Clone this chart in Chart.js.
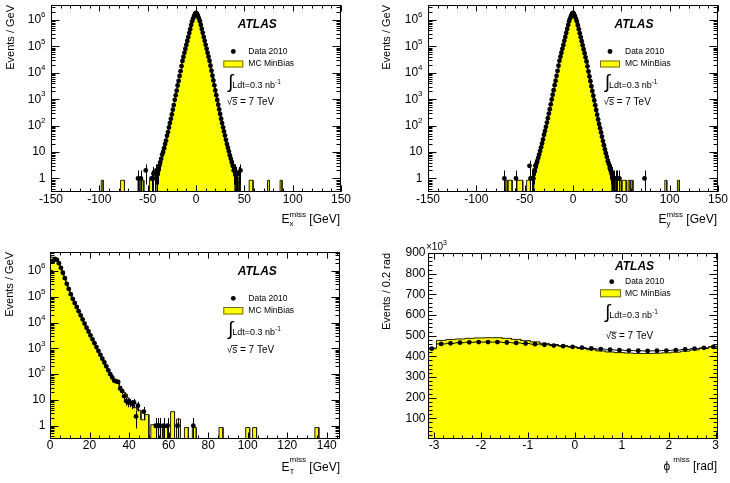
<!DOCTYPE html>
<html>
<head>
<meta charset="utf-8">
<script src="https://cdn.jsdelivr.net/npm/chart.js@4.4.1/dist/chart.umd.min.js"></script>
<style>
  html, body { margin: 0; padding: 0; background: #fff; }
  #wrap { position: relative; width: 730px; height: 483px; }
  #wrap canvas { position: absolute; left: 0; top: 0; }
</style>
</head>
<body>
<div id="wrap">
  <canvas id="cEx" width="730" height="483"></canvas>
  <canvas id="cEy" width="730" height="483"></canvas>
  <canvas id="cEt" width="730" height="483"></canvas>
  <canvas id="cPhi" width="730" height="483"></canvas>
</div>
<script>
/* ATLAS 2010 MET distributions, data vs MC MinBias */

/* ---------- tick labels ---------- */
const LOG_TICKS = [1, 10, 1e2, 1e3, 1e4, 1e5, 1e6];
const EXY_TICKS = [-150, -100, -50, 0, 50, 100, 150];
const ET_TICKS = [0, 20, 40, 60, 80, 100, 120, 140];
const PHI_TICKS = [-3, -2, -1, 0, 1, 2, 3];
const PHI_Y_TICKS = [100, 200, 300, 400, 500, 600, 700, 800, 900];

/* ---------- E_x^miss / E_y^miss (events / GeV), core in 1 GeV bins ---------- */
const exyCentres = [-42, -41, -40, -39, -38, -37, -36, -35, -34, -33, -32, -31, -30, -29, -28, -27, -26, -25, -24, -23, -22,
  -21, -20, -19, -18, -17, -16, -15, -14, -13, -12, -11, -10, -9, -8, -7, -6, -5, -4, -3, -2, -1, 0,
  1, 2, 3, 4, 5, 6, 7, 8, 9, 10, 11, 12, 13, 14, 15, 16, 17, 18, 19, 20, 21,
  22, 23, 24, 25, 26, 27, 28, 29, 30, 31, 32, 33, 34, 35, 36, 37, 38, 39, 40, 41, 42];
const exData = [1, 2, 1.5, 2, 3, 4, 5.5, 8, 10, 14, 20, 27, 41, 57, 85, 125, 180, 265, 400, 600, 950,
  1400, 2100, 3300, 4900, 7600, 11500, 18000, 28000, 40000, 57000, 80000, 113000, 160000, 225000, 320000, 450000,
  640000, 890000, 1130000, 1400000, 1700000, 1860000,
  1720000, 1420000, 1140000, 900000, 650000, 455000, 325000, 228000, 162000, 115000, 81000, 57000, 40500, 28500,
  18500, 12000, 7800, 5100, 3350, 2150, 1420, 940, 620, 410, 275, 182, 125, 86, 60, 42, 29, 20, 14.5, 10.5, 7.5,
  5.5, 4, 3, 2, 2, 1.5, 1];
const exMC = [0, 0, 1.1, 1.5, 2.4, 3.4, 5, 7, 9.5, 13, 18, 26, 38, 55, 80, 118, 170, 255, 380, 580, 900,
  1350, 2000, 3100, 4700, 7300, 11000, 17000, 27000, 38500, 55000, 78000, 110000, 156000, 220000, 312000, 440000,
  625000, 870000, 1110000, 1380000, 1650000, 1800000,
  1660000, 1380000, 1110000, 880000, 635000, 445000, 316000, 222000, 158000, 112000, 79000, 56000, 39500, 27500,
  18000, 11500, 7500, 4900, 3200, 2050, 1360, 900, 590, 395, 262, 175, 120, 82, 57, 40, 27.5, 19, 13.5, 9.8, 7,
  5, 3.6, 2.6, 1.8, 1.2, 0, 0];
// isolated tail bins: data [centre, value] (1 GeV), MC [centre, value, width]
const exDataTail = [[-60, 1], [-57, 1], [-52, 2], [-46, 1], [-44, 1.5], [44, 1.5], [46, 2]];
const exMCTail = [[-97, 0.85, 2], [-77, 0.85, 2], [-75, 0.85, 2], [-59, 0.85, 2], [-55, 0.85, 2], [-47, 0.85, 2],
  [-45, 0.85, 2], [45, 0.85, 2], [56, 0.85, 2], [58, 0.85, 2], [75, 0.85, 2], [88, 0.85, 2]];

const eyData = [1, 1, 2, 3, 3.5, 4.5, 6, 8, 11, 15, 21, 30, 45, 63, 90, 130, 190, 285, 420, 640, 980,
  1480, 2200, 3400, 5000, 7700, 11800, 18500, 28500, 40500, 57500, 81000, 114000, 162000, 228000, 322000, 455000,
  650000, 900000, 1150000, 1420000, 1720000, 1870000,
  1700000, 1400000, 1120000, 880000, 630000, 445000, 315000, 222000, 157000, 111000, 78000, 55000, 38500, 27000,
  17500, 11200, 7300, 4800, 3100, 2050, 1350, 900, 590, 390, 260, 170, 115, 80, 55, 38, 26, 18, 12.5, 9, 6.5,
  4.5, 3.5, 2.5, 2, 1.5, 1, 1];
const eyMC = [0, 0, 1.3, 2, 2.8, 4, 5.5, 7.5, 10, 14, 20, 28, 42, 60, 86, 125, 180, 270, 400, 610, 940,
  1420, 2100, 3250, 4800, 7400, 11300, 17800, 27500, 39000, 56000, 79000, 112000, 158000, 224000, 316000, 448000,
  640000, 885000, 1130000, 1400000, 1680000, 1830000,
  1660000, 1380000, 1100000, 870000, 620000, 440000, 310000, 218000, 154000, 109000, 76500, 54000, 37800, 26500,
  17200, 11000, 7100, 4700, 3000, 2000, 1320, 880, 575, 380, 252, 165, 112, 78, 54, 37, 25, 17.5, 12, 8.5, 6,
  4.2, 3, 2, 1.4, 1.1, 0, 0];
const eyDataTail = [[-71, 1], [-59, 1], [-45, 3], [-44, 1], [44, 1], [46, 1], [48, 1], [74, 1]];
const eyMCTail = [[-69, 0.85, 2], [-66, 0.85, 2], [-64, 0.85, 2], [-57, 0.85, 2], [-55, 0.85, 2], [-53, 0.85, 2],
  [-47, 0.85, 2], [-45, 0.85, 2], [45, 0.85, 2], [47, 0.85, 2], [49, 0.85, 2], [52, 0.85, 2], [54, 0.85, 2],
  [58, 0.85, 2], [61, 0.85, 2], [96, 0.85, 2], [109, 0.85, 2]];

/* ---------- E_T^miss, 1 GeV bins ---------- */
const etCentres = [0.5, 1.5, 2.5, 3.5, 4.5, 5.5, 6.5, 7.5, 8.5, 9.5, 10.5, 11.5, 12.5, 13.5, 14.5, 15.5, 16.5, 17.5, 18.5, 19.5,
  20.5, 21.5, 22.5, 23.5, 24.5, 25.5, 26.5, 27.5, 28.5, 29.5, 30.5, 31.5, 32.5, 33.5, 34.5, 35.5, 36.5, 37.5, 38.5, 39.5];
const etData = [900000, 2400000, 2950000, 2700000, 2000000, 1320000, 850000, 525000, 316000, 200000,
  126000, 83000, 57500, 40000, 27500, 19000, 13200, 9100, 6300, 4500,
  3160, 2240, 1580, 1120, 794, 562, 398, 282, 200, 141,
  100, 74, 56, 52, 50, 28, 22, 14, 9, 8];
const etMC = [3500000, 3300000, 3000000, 2650000, 1980000, 1320000, 860000, 535000, 325000, 205000,
  130000, 86000, 60000, 42000, 29000, 20000, 14000, 9700, 6700, 4800,
  3400, 2400, 1700, 1200, 860, 610, 430, 305, 215, 152,
  110, 80, 62, 56, 52, 34, 26, 20, 17, 12];
const etDataTail = [[40.5, 8], [41.5, 7], [42.5, 8], [43.5, 2.3], [44.5, 6], [47.5, 3.5],
  [53.5, 1], [54.5, 1], [55.5, 1], [57.5, 1], [59.5, 1], [64.5, 1], [72.5, 1]];
const etMCTail = [[41, 7.5, 2], [43, 5, 2], [45, 4, 2], [47, 1.7, 2], [49, 2.7, 2], [52, 1.1, 2], [54, 0.85, 2],
  [56, 0.85, 2], [58.5, 0.85, 2], [62, 3.5, 2], [65, 1.8, 2], [69, 0.85, 2], [73, 0.85, 2], [86.5, 0.85, 2],
  [100, 0.85, 2], [103.5, 0.85, 2], [135, 0.85, 2]];

/* ---------- phi^miss, 0.2 rad bins, x10^3 events ---------- */
const phiCentres = [-3.05, -2.85, -2.65, -2.45, -2.25, -2.05, -1.85, -1.65, -1.45, -1.25, -1.05, -0.85, -0.65, -0.45, -0.25, -0.05,
  0.15, 0.35, 0.55, 0.75, 0.95, 1.15, 1.35, 1.55, 1.75, 1.95, 2.15, 2.35, 2.55, 2.75, 2.95];
const phiData = [437, 460, 463, 466, 468, 469, 469, 469, 467, 465, 462, 459, 456, 452, 449, 446,
  442, 438, 435, 432, 430, 428, 427, 426, 427, 428, 430, 433, 437, 441, 446];
const phiMC = [440, 477, 481, 484, 487, 489, 490, 490, 487, 482, 476, 470, 463, 457, 451, 445,
  438, 432, 426, 421, 418, 416, 414, 414, 415, 417, 420, 425, 431, 438, 446];

/* ---------- helpers ---------- */
const FONT = '"Liberation Sans", Arial, Helvetica, sans-serif';
const f = (px, style = "") => `${style} ${px}px ${FONT}`.trim();
const MC_FILL = "#ffff00", MC_LINE = "#202000";
const EMPTY = 1e-3; // empty bins sit below every axis floor (log scales drop a literal 0)

const bins = (centres, vals, w) => centres.map((c, i) => ({ lo: c - w / 2, hi: c + w / 2, v: vals[i] }));
const tailBins = (tail) => tail.map(([c, v, w]) => ({ lo: c - w / 2, hi: c + w / 2, v }));
const points = (centres, vals, w) => centres.map((c, i) => ({ x: c, y: vals[i], w })).filter((p) => p.y > 0);
const tailPoints = (tail) => tail.map(([c, v]) => ({ x: c, y: v, w: 1 }));

// histogram outline through the bin edges; empty stretches drop below the axis floor
function histLine(list) {
  const b = list.slice().sort((p, q) => p.lo - q.lo);
  const pts = [];
  b.forEach((bin, i) => {
    const prev = b[i - 1], next = b[i + 1];
    const v = bin.v > 0 ? bin.v : EMPTY;
    if (!prev || prev.hi < bin.lo - 1e-6) pts.push({ x: bin.lo, y: EMPTY });
    pts.push({ x: bin.lo, y: v }, { x: bin.hi, y: v });
    if (!next || next.lo > bin.hi + 1e-6) pts.push({ x: bin.hi, y: EMPTY });
  });
  return pts;
}

function text(ctx, s, x, y, font, align = "left", base = "middle") {
  ctx.font = font; ctx.textAlign = align; ctx.textBaseline = base; ctx.fillStyle = "#000";
  ctx.fillText(s, x, y);
}

function drawErrors(chart, cfg) {
  const { ctx, chartArea: a, scales: { x, y } } = chart;
  ctx.save();
  ctx.beginPath(); ctx.rect(a.left, a.top, a.right - a.left, a.bottom - a.top); ctx.clip();
  ctx.strokeStyle = "#000"; ctx.lineWidth = 1;
  ctx.beginPath();
  chart.data.datasets[0].data.forEach((p) => {
    const s = cfg.err(p.y, p.w);
    const px = Math.round(x.getPixelForValue(p.x)) + 0.5, py = y.getPixelForValue(p.y);
    const yl = p.y - s > 0 ? y.getPixelForValue(p.y - s) : a.bottom;
    ctx.moveTo(px, yl); ctx.lineTo(px, y.getPixelForValue(p.y + s));
    ctx.moveTo(x.getPixelForValue(p.x - p.w / 2), py); ctx.lineTo(x.getPixelForValue(p.x + p.w / 2), py);
  });
  ctx.stroke();
  ctx.restore();
}

function drawFrame(chart, cfg) {
  const { ctx, chartArea: a, scales: { x, y } } = chart;
  const L = Math.round(a.left) + 0.5, R = Math.round(a.right) - 0.5;
  const T = Math.round(a.top) + 0.5, B = Math.round(a.bottom) - 0.5;
  ctx.save();
  ctx.strokeStyle = "#000"; ctx.lineWidth = 1;
  ctx.strokeRect(L, T, R - L, B - T);
  ctx.beginPath();
  const xt = (v, len) => {
    const p = Math.round(x.getPixelForValue(v)) + 0.5;
    ctx.moveTo(p, B); ctx.lineTo(p, B - len); ctx.moveTo(p, T); ctx.lineTo(p, T + len);
  };
  const yt = (v, len) => {
    const p = Math.round(y.getPixelForValue(v)) + 0.5;
    ctx.moveTo(L, p); ctx.lineTo(L + len, p); ctx.moveTo(R, p); ctx.lineTo(R - len, p);
  };
  const n0 = Math.ceil(x.min / cfg.xMinor - 1e-6), n1 = Math.floor(x.max / cfg.xMinor + 1e-6);
  for (let n = n0; n <= n1; n++) xt(n * cfg.xMinor, 3);
  cfg.xTicks.forEach((v) => xt(v, 6));
  if (cfg.yLog) {
    for (let d = Math.floor(Math.log10(y.min)); d <= Math.floor(Math.log10(y.max)); d++) {
      for (let k = 1; k <= 9; k++) {
        const v = k * Math.pow(10, d);
        if (v >= y.min && v <= y.max) yt(v, k === 1 ? 8 : 4);
      }
    }
  } else {
    const m1 = Math.floor(y.max / cfg.yMinor + 1e-6);
    for (let n = 1; n <= m1; n++) yt(n * cfg.yMinor, 4);
    cfg.yTicks.forEach((v) => yt(v, 8));
  }
  ctx.stroke();

  // tick labels
  cfg.xTicks.forEach((v) => text(ctx, String(v), x.getPixelForValue(v), cfg.xLabelY, f(12), "center"));
  cfg.yTicks.forEach((v) => {
    const py = y.getPixelForValue(v);
    if (cfg.yLog && v > 10) {
      const e = String(Math.round(Math.log10(v)));
      ctx.font = f(8);
      const we = ctx.measureText(e).width;
      text(ctx, e, cfg.yLabelRight, py - 5, f(8), "right");
      text(ctx, "10", cfg.yLabelRight - we, py, f(12), "right");
    } else {
      text(ctx, String(v), cfg.yLabelRight, py, f(12), "right");
    }
  });
  if (cfg.yMult) {
    const [mx, my] = cfg.yMult;
    text(ctx, "\u00d710", mx, my, f(10));
    ctx.font = f(10);
    text(ctx, "3", mx + ctx.measureText("\u00d710").width, my - 4, f(7));
  }

  // axis titles
  const t = cfg.xTitle;
  ctx.font = f(12);
  const wMain = ctx.measureText(t.main).width, wUnit = ctx.measureText(t.unit).width;
  ctx.font = f(8);
  const wSup = ctx.measureText(t.sup).width, wSub = t.sub ? ctx.measureText(t.sub).width : 0;
  let x0 = t.right - wUnit - Math.max(wSup, wSub) - wMain - (t.gap || 0);
  text(ctx, t.main, x0, t.base, f(12), "left", "alphabetic");
  x0 += wMain + (t.gap || 0);
  text(ctx, t.sup, x0, t.base + t.supDy, f(8), "left", "alphabetic");
  if (t.sub) text(ctx, t.sub, x0, t.base + 3, f(8), "left", "alphabetic");
  text(ctx, t.unit, t.right, t.base, f(12), "right", "alphabetic");

  const [ycx, ytop] = cfg.yTitlePos;
  ctx.save(); ctx.translate(ycx, ytop); ctx.rotate(-Math.PI / 2);
  text(ctx, cfg.yTitle, 0, 0, f(11), "right", "middle");
  ctx.restore();

  drawLegend(ctx, cfg.leg);
  ctx.restore();
}

function drawLegend(ctx, g) {
  text(ctx, "ATLAS", g.atlas[0], g.atlas[1], f(12, "italic bold"));
  ctx.fillStyle = "#000";
  ctx.beginPath(); ctx.arc(g.dot[0], g.dot[1], 2.4, 0, Math.PI * 2); ctx.fill();
  text(ctx, "Data 2010", g.txtX, g.dot[1], f(8.5));
  const [bx, by, bw, bh] = g.box;
  ctx.fillStyle = MC_FILL; ctx.fillRect(bx, by, bw, bh);
  ctx.strokeStyle = "#6b6b2e"; ctx.lineWidth = 1; ctx.strokeRect(bx + 0.5, by + 0.5, bw - 1, bh - 1);
  text(ctx, "MC MinBias", g.txtX, by + bh / 2, f(8.5));
  // luminosity
  const [ix, iy] = g.lum;
  text(ctx, "\u222b", ix, iy - 1, f(19));
  ctx.font = f(19);
  const lx = ix + ctx.measureText("\u222b").width - 1;
  text(ctx, "Ldt=0.3 nb", lx, iy + 2, f(9));
  ctx.font = f(9);
  text(ctx, "-1", lx + ctx.measureText("Ldt=0.3 nb").width, iy - 2, f(6.5));
  // sqrt(s)
  const [sx, sy] = g.sqrt;
  text(ctx, "\u221a", sx, sy, f(10));
  ctx.font = f(10);
  const rx = sx + ctx.measureText("\u221a").width;
  text(ctx, "s = 7 TeV", rx, sy, f(10));
  ctx.strokeStyle = "#000"; ctx.lineWidth = 0.8;
  ctx.beginPath(); ctx.moveTo(rx - 0.5, sy - 4.5); ctx.lineTo(rx + ctx.measureText("s").width + 0.5, sy - 4.5); ctx.stroke();
}

const hepPlugin = {
  id: "hep",
  afterDatasetsDraw(chart, args, cfg) { drawErrors(chart, cfg); },
  afterDraw(chart, args, cfg) { drawFrame(chart, cfg); },
};

function makePanel(id, area, xr, yr, yLog, mcPts, dataPts, cfg) {
  const [l, t, r, b] = area;
  return new Chart(document.getElementById(id), {
    type: "scatter",
    data: {
      datasets: [
        { data: dataPts, pointRadius: 2.4, pointBackgroundColor: "#000", pointBorderWidth: 0, order: 1 },
        {
          type: "line", data: mcPts, fill: "start", backgroundColor: MC_FILL, borderColor: MC_LINE,
          borderWidth: 1, pointRadius: 0, tension: 0, order: 2,
        },
      ],
    },
    options: {
      responsive: false, animation: false, events: [],
      layout: { padding: { left: l, top: t, right: 730 - r, bottom: 483 - b } },
      scales: {
        x: { type: "linear", min: xr[0], max: xr[1], display: false, bounds: "data" },
        y: { type: yLog ? "logarithmic" : "linear", min: yr[0], max: yr[1], display: false, bounds: "data" },
      },
      plugins: { legend: { display: false }, tooltip: { enabled: false }, hep: cfg },
    },
    plugins: [hepPlugin],
  });
}

const poisson = (y, w) => Math.sqrt(y / w);

/* ---------- panels ---------- */
makePanel("cEx", [51, 5, 341, 192], [-150, 150], [0.306, 3.69e6], true,
  histLine(bins(exyCentres, exMC, 1).concat(tailBins(exMCTail))),
  points(exyCentres, exData, 1).concat(tailPoints(exDataTail)),
  {
    err: poisson, yLog: true, xTicks: EXY_TICKS, xMinor: 10, yTicks: LOG_TICKS,
    xLabelY: 199.5, yLabelRight: 45.5,
    xTitle: { right: 340, base: 223, main: "E", sub: "x", sup: "miss", supDy: -6, unit: " [GeV]" },
    yTitle: "Events / GeV", yTitlePos: [10.5, 5],
    leg: { atlas: [237.7, 25], dot: [233.3, 51.5], txtX: 248.3, box: [223.3, 60.5, 20, 7], lum: [228, 84], sqrt: [226.7, 102] },
  });

makePanel("cEy", [428, 5, 718, 192], [-150, 150], [0.306, 3.69e6], true,
  histLine(bins(exyCentres, eyMC, 1).concat(tailBins(eyMCTail))),
  points(exyCentres, eyData, 1).concat(tailPoints(eyDataTail)),
  {
    err: poisson, yLog: true, xTicks: EXY_TICKS, xMinor: 10, yTicks: LOG_TICKS,
    xLabelY: 199.5, yLabelRight: 422.5,
    xTitle: { right: 717, base: 223, main: "E", sub: "y", sup: "miss", supDy: -6, unit: " [GeV]" },
    yTitle: "Events / GeV", yTitlePos: [387, 5],
    leg: { atlas: [614.4, 25], dot: [610, 51.5], txtX: 625, box: [600, 60.5, 20, 7], lum: [604.7, 84], sqrt: [603.4, 102] },
  });

makePanel("cEt", [50, 252, 340, 439], [0, 146.7], [0.306, 5.42e6], true,
  histLine(bins(etCentres, etMC, 1).concat(tailBins(etMCTail))),
  points(etCentres, etData, 1).concat(tailPoints(etDataTail)),
  {
    err: poisson, yLog: true, xTicks: ET_TICKS, xMinor: 5, yTicks: LOG_TICKS,
    xLabelY: 446, yLabelRight: 45.5,
    xTitle: { right: 340, base: 471, main: "E", sub: "T", sup: "miss", supDy: -9, unit: " [GeV]" },
    yTitle: "Events / GeV", yTitlePos: [10, 252],
    leg: { atlas: [237.7, 272], dot: [233.3, 298.3], txtX: 248.3, box: [223.3, 307, 20, 7.5], lum: [228, 331], sqrt: [226.7, 350] },
  });

makePanel("cPhi", [428, 253, 718, 439], [-3.13, 3.05], [0, 900], false,
  histLine(bins(phiCentres, phiMC, 0.2)),
  points(phiCentres, phiData, 0.2),
  {
    err: (y) => Math.sqrt(y * 1000) / 1000, yLog: false, xTicks: PHI_TICKS, xMinor: 0.2,
    yTicks: PHI_Y_TICKS, yMinor: 20, yMult: [426, 247],
    xLabelY: 446, yLabelRight: 425.5,
    xTitle: { right: 717, base: 470, main: "\u03d5", gap: 3, sup: "miss", supDy: -8, unit: " [rad]" },
    yTitle: "Events / 0.2 rad", yTitlePos: [387, 253],
    leg: { atlas: [615, 267], dot: [611.7, 281.7], txtX: 625, box: [600, 289.3, 21, 8], lum: [605, 314], sqrt: [605.7, 336.7] },
  });
</script>
</body>
</html>
